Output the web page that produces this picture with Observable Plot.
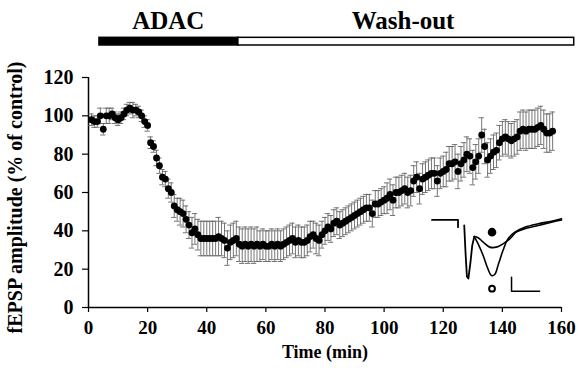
<!DOCTYPE html>
<html><head><meta charset="utf-8">
<script src="https://cdn.jsdelivr.net/npm/d3@7"></script>
<script src="https://cdn.jsdelivr.net/npm/@observablehq/plot@0.6"></script>
<style>
body{margin:0;background:#fff}
svg{font-family:"Liberation Serif","Times New Roman",serif}
</style>
</head><body><div id="chart"></div>
<script>
// Time (min) of each sample
const firstMinute = 1;
// fEPSP amplitude (% of control), one sample per minute
const amplitude = [
  98,97,97,100,93,100,100,101,99,98, 99,101,103,104,103,103,102,100,97,95,
  86,84,78,74,68,67,62,60,53,51, 50,49,46,43,39,41,38,36,36,36,
  36,36,36,37,36,35,31,34,35,36, 33,32,33,32,33,32,33,32,33,32,
  32,33,32,33,32,33,34,35,36,34, 35,34,34,35,37,38,36,35,38,40,
  42,41,44,45,43,44,45,46,47,48, 49,50,51,52,52,49,54,54,55,56,
  57,59,56,60,60,61,62,60,61,66, 68,62,67,68,69,70,70,66,70,71,
  72,75,75,76,71,75,77,80,79,73, 76,79,90,84,77,79,81,82,86,88,
  89,88,87,88,89,92,93,92,93,93, 93,94,95,93,91,91,92
];
// SEM (% of control)
const sem = [
  3,3,3,4,3,4,4,3,3,3, 3,3,3,3,4,3,3,3,3,3,
  3,3,4,4,4,4,5,5,6,6, 7,7,7,7,8,8,8,9,9,9,
  9,9,9,10,9,9,9,9,9,9, 9,9,9,9,9,9,9,8,8,8,
  8,8,8,8,8,8,8,8,8,8, 8,8,8,8,8,7,8,8,7,7,
  7,7,7,7,7,7,7,7,7,7, 7,7,7,7,7,7,7,7,7,7,
  8,8,8,8,8,8,8,8,8,8, 8,8,8,8,8,8,8,8,8,8,
  9,9,9,9,9,9,9,9,9,9, 9,9,9,9,9,9,9,9,9,9,
  9,9,9,9,9,10,10,10,10,10, 10,10,10,10,10,10,10
];
const xTicks = [0,20,40,60,80,100,120,140,160];
const yTicks = [0,20,40,60,80,100,120];

// Drug application bars (min)
const phases = [
  {label:"ADAC", start:3.7, end:50.7, fill:"#000", labelAt:27},
  {label:"Wash-out", start:50.7, end:164.3, fill:"#fff", labelAt:106.4}
];

// Inset example traces (drawn in the chart's own units)
const insetBaseline = {t:[116.2,125.0,125.0], v:[45.7,45.7,41.9]};
const insetVolley = {t:[127.1,127.5,128.0,128.5,129.2,129.8,130.5], v:[42.8,29.7,16.2,15.1,23.5,32.3,37.0]};
const insetDrug = {t:[130.5,131.8,133.5,135.7,138.0,140.2,142.5,144.7,147.6,152.1,156.6,160],
                   v:[37.0,36.4,34.1,31.5,31.5,33.2,35.8,39.3,41.1,42.8,44.5,45.7]};
const insetControl = {t:[130.5,131.8,133.5,134.9,136.3,137.4,138.7,140.2,141.9,144.2,147.6,152.1,156.6,160],
                      v:[37.0,33.2,27.1,21.0,16.7,17.2,22.8,29.7,35.8,39.3,41.9,43.7,45.0,46.3]};
const insetScale = {t:[143.1,143.1,152.6], v:[15.8,8.5,8.5]};
const insetMarkers = [{t:136.5, v:39.3, filled:true}, {t:136.5, v:9.8, filled:false}];

const data = amplitude.map((v,i)=>({t:firstMinute+i, v, e:sem[i]}));
const toRows = o => o.t.map((t,i)=>({t, v:o.v[i]}));

const font = {fontFamily:'"Liberation Serif","Times New Roman",serif', fontWeight:"bold"};

const chart = Plot.plot({
  width:578, height:371,
  marginLeft:88, marginRight:17, marginTop:77, marginBottom:64,
  x:{domain:[0,160]},
  y:{domain:[0,120]},
  style:{background:"#fff", color:"#000"},
  marks:[
    Plot.ruleX([0],{y1:0,y2:120,stroke:"#000",strokeWidth:1.5}),
    Plot.ruleY([0],{x1:0,x2:160,stroke:"#000",strokeWidth:1.5}),
    Plot.axisX({ticks:xTicks, tickSize:5, tickPadding:8, fontSize:19, ...font, label:null, strokeWidth:1.2}),
    Plot.axisY({ticks:yTicks, tickSize:6, tickPadding:9, fontSize:20, ...font, label:null, strokeWidth:1.2}),
    Plot.text(["Time (min)"],{frameAnchor:"bottom", dy:50, fontSize:18, ...font}),
    Plot.text(["fEPSP amplitude (% of control)"],{frameAnchor:"left", textAnchor:"middle", dx:-73, dy:5, rotate:-90, fontSize:20, ...font}),
    // phase bars
    Plot.rect(phases,{x1:"start",x2:"end",y1:136.7,y2:140.7,fill:"fill",stroke:"#000",strokeWidth:1.5}),
    Plot.text(phases,{x:"labelAt",y:149.5,text:"label",fontSize:25,...font}),
    // error bars
    Plot.ruleX(data,{x:"t",y1:d=>d.v-d.e,y2:d=>d.v+d.e,stroke:"#666",strokeWidth:0.9}),
    Plot.ruleY(data,{y:d=>d.v+d.e,x1:d=>d.t-0.9,x2:d=>d.t+0.9,stroke:"#666",strokeWidth:0.9}),
    Plot.ruleY(data,{y:d=>d.v-d.e,x1:d=>d.t-0.9,x2:d=>d.t+0.9,stroke:"#666",strokeWidth:0.9}),
    Plot.dot(data,{x:"t",y:"v",r:3.4,fill:"#000",stroke:"none"}),
    // inset
    Plot.line(toRows(insetBaseline),{x:"t",y:"v",stroke:"#000",strokeWidth:1.8}),
    Plot.line(toRows(insetVolley),{x:"t",y:"v",stroke:"#000",strokeWidth:1.8,curve:"linear"}),
    Plot.line(toRows(insetDrug),{x:"t",y:"v",stroke:"#000",strokeWidth:1.6,curve:"catmull-rom"}),
    Plot.line(toRows(insetControl),{x:"t",y:"v",stroke:"#000",strokeWidth:1.6,curve:"catmull-rom"}),
    Plot.line(toRows(insetScale),{x:"t",y:"v",stroke:"#000",strokeWidth:1.5}),
    Plot.dot(insetMarkers,{x:"t",y:"v",r:d=>d.filled?5:3.8,fill:d=>d.filled?"#000":"#fff",stroke:"#000",strokeWidth:2})
  ]
});
document.getElementById("chart").appendChild(chart);
</script>
</body></html>
